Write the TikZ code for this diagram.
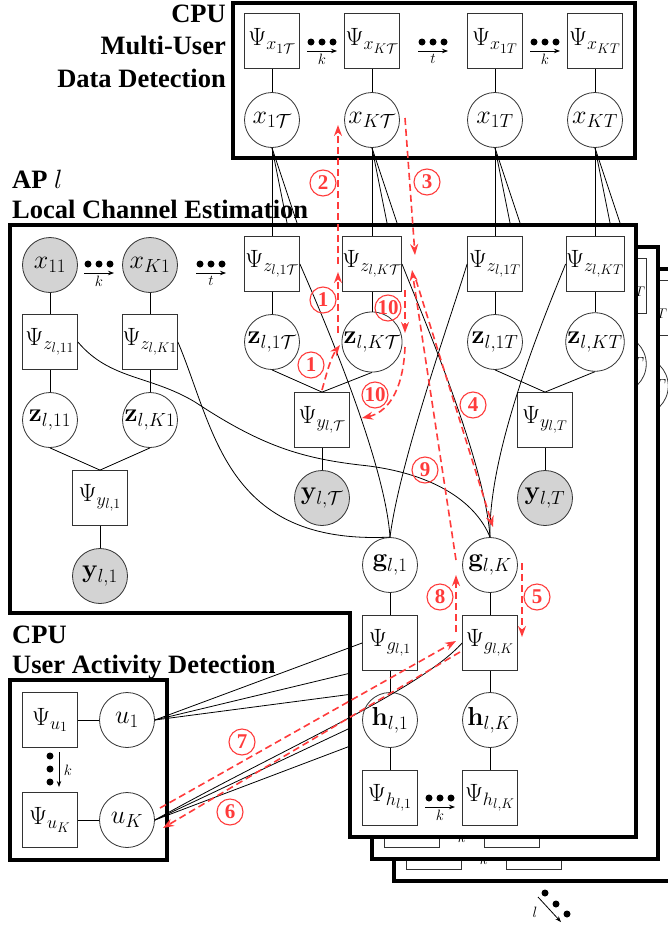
\RequirePackage{fix-cm}
\documentclass[tikz,border=0pt]{standalone}
\usepackage[no-math]{fontspec}
\setmainfont{Liberation Serif}
\usetikzlibrary{arrows.meta}
\DeclareMathSizes{25}{25}{18}{14}
\DeclareMathSizes{26}{26}{19}{14}
\definecolor{arrred}{HTML}{FF3B3B}
\definecolor{nodeline}{HTML}{333333}
\definecolor{obsgray}{HTML}{D3D3D3}
\newcommand{\hdotsarrow}[4]{%
  \fill (#1-11,#2) circle (3.5pt) (#1,#2) circle (3.5pt) (#1+11,#2) circle (3.5pt);
  \draw[smallarr] (#1-15,#2+9) -- (#1+15,#2+9);
  \node[dotlab] (#4) at (#1,#2+17) {$#3$};}
\begin{document}
\begin{tikzpicture}[x=1pt,y=-1pt,
  conn/.style={line width=0.8pt, draw=black},
  fbox/.style={draw=nodeline, line width=0.8pt, fill=white, rectangle, minimum size=55pt, inner sep=0pt, font=\fontsize{25}{28}\selectfont},
  var/.style={draw=nodeline, line width=0.8pt, fill=white, circle, minimum size=55pt, inner sep=0pt, font=\fontsize{26}{30}\selectfont},
  obs/.style={var, fill=obsgray},
  frame/.style={line width=3.5pt, draw=black, fill=white},
  openframe/.style={line width=3.5pt, draw=black},
  title/.style={font=\fontsize{26.5}{31}\bfseries\selectfont, inner sep=0pt},
  rarr/.style={draw=arrred, line width=1.6pt, dash pattern=on 7pt off 4pt, -{Stealth[length=11pt,width=8pt]}},
  cnum/.style={circle, draw=arrred, text=arrred, line width=1.1pt, minimum size=26pt, inner sep=0pt, font=\fontsize{21}{21}\bfseries\selectfont},
  smallarr/.style={line width=0.8pt, -{Stealth[length=6pt,width=4.5pt]}},
  dotlab/.style={inner sep=0pt, font=\fontsize{15}{15}\selectfont},
]
\useasboundingbox (0,0) rectangle (668,929);

% ---------- top CPU nodes ----------
\node[fbox] (PxA) at (272,41) {$\Psi_{x_{1\mathcal{T}}}$};
\node[fbox] (PxB) at (372,41) {$\Psi_{x_{K\mathcal{T}}}$};
\node[fbox] (PxC) at (495,41) {$\Psi_{x_{1T}}$};
\node[fbox] (PxD) at (595,41) {$\Psi_{x_{KT}}$};
\node[var] (xA) at (272,120) {$x_{1\mathcal{T}}$};
\node[var] (xB) at (372,120) {$x_{K\mathcal{T}}$};
\node[var] (xC) at (495,120) {$x_{1T}$};
\node[var] (xD) at (595,120) {$x_{KT}$};
\draw[conn] (PxA.south) -- (xA.north);
\draw[conn] (PxB.south) -- (xB.north);
\draw[conn] (PxC.south) -- (xC.north);
\draw[conn] (PxD.south) -- (xD.north);
\hdotsarrow{322}{42}{k}{kt1}
\hdotsarrow{433}{42}{t}{tt}
\hdotsarrow{545}{42}{k}{kt2}

% ---------- UAD nodes ----------
\node[fbox] (Pu1) at (50,720) {$\Psi_{u_1}$};
\node[var] (u1) at (127,720) {$u_1$};
\node[fbox] (PuK) at (50,820) {$\Psi_{u_K}$};
\node[var] (uK) at (127,820) {$u_K$};
\draw[conn] (Pu1) -- (u1);
\draw[conn] (PuK) -- (uK);
\fill (50,756) circle (3.5pt) (50,769) circle (3.5pt) (50,782) circle (3.5pt);
\draw[smallarr] (59,752) -- (59,787);
\node[dotlab] (kU) at (68,770) {$k$};

% ---------- hidden ends of connectors to AP l+1, l+2 ----------
\coordinate (c2zA) at (294,258); \coordinate (c3zA) at (316,280);
\coordinate (c2zB) at (394,258); \coordinate (c3zB) at (416,280);
\coordinate (c2zC) at (517,258); \coordinate (c3zC) at (539,280);
\coordinate (c2zD) at (617,258); \coordinate (c3zD) at (639,280);
\coordinate (c2g1) at (384,665); \coordinate (c3g1) at (406,687);
\coordinate (c2gK) at (484,665); \coordinate (c3gK) at (506,687);
\foreach \n in {A,B,C,D}{
  \draw[conn] (x\n.south) -- (c2z\n);
  \draw[conn] (x\n.south) -- (c3z\n);}
\draw[conn] (u1.east) -- (c2g1);
\draw[conn] (u1.east) -- (c3g1);
\draw[conn] (uK.east) -- (c2gK);
\draw[conn] (uK.east) -- (c3gK);

% ---------- AP l+2 ----------
\draw[frame] (394,269) rectangle (680,881);
\node[fbox] (c3PzD) at (639,308) {$\Psi_{z_{l,KT}}$};
\node[var] (c3zD) at (639,386) {$\mathbf{z}_{l,KT}$};
\node[fbox] (c3Ph1) at (434,842) {};
\node[fbox] (c3PhK) at (534,842) {};
\hdotsarrow{484}{842}{k}{c3kh}
% ---------- AP l+1 ----------
\draw[frame] (372,247) rectangle (658,859);
\node[fbox] (c2PzD) at (617,286) {$\Psi_{z_{l,KT}}$};
\node[var] (c2zD) at (617,364) {$\mathbf{z}_{l,KT}$};
\node[fbox] (c2Ph1) at (412,820) {};
\node[fbox] (c2PhK) at (512,820) {};
\hdotsarrow{462}{820}{k}{c2kh}

% ---------- AP l ----------
\draw[frame] (10,225) -- (636,225) -- (636,837) -- (350,837) -- (350,613) -- (10,613) -- cycle;

\node[obs] (x11) at (50,265) {$x_{11}$};
\node[obs] (xK1) at (150,265) {$x_{K1}$};
\hdotsarrow{99}{264}{k}{ka}
\hdotsarrow{211}{264}{t}{ta}
\node[fbox] (Pz11) at (50,342) {$\Psi_{z_{l,11}}$};
\node[fbox] (PzK1) at (150,342) {$\Psi_{z_{l,K1}}$};
\node[var] (z11) at (50,420) {$\mathbf{z}_{l,11}$};
\node[var] (zK1) at (150,420) {$\mathbf{z}_{l,K1}$};
\node[fbox] (Py1) at (100,498) {$\Psi_{y_{l,1}}$};
\node[obs] (y1) at (100,576) {$\mathbf{y}_{l,1}$};

\node[fbox] (PzA) at (272,264) {$\Psi_{z_{l,1\mathcal{T}}}$};
\node[fbox] (PzB) at (372,264) {$\Psi_{z_{l,K\mathcal{T}}}$};
\node[fbox] (PzC) at (495,264) {$\Psi_{z_{l,1T}}$};
\node[fbox] (PzD) at (595,264) {$\Psi_{z_{l,KT}}$};
\node[var] (zA) at (272,342) {$\mathbf{z}_{l,1\mathcal{T}}$};
\node[var] (zB) at (372,342) {$\mathbf{z}_{l,K\mathcal{T}}$};
\node[var] (zC) at (495,342) {$\mathbf{z}_{l,1T}$};
\node[var] (zD) at (595,342) {$\mathbf{z}_{l,KT}$};
\node[fbox] (PyA) at (322,420) {$\Psi_{y_{l,\mathcal{T}}}$};
\node[obs] (yA) at (322,498) {$\mathbf{y}_{l,\mathcal{T}}$};
\node[fbox] (PyC) at (545,420) {$\Psi_{y_{l,T}}$};
\node[obs] (yC) at (545,498) {$\mathbf{y}_{l,T}$};

\node[var] (g1) at (390,565) {$\mathbf{g}_{l,1}$};
\node[var] (gK) at (490,565) {$\mathbf{g}_{l,K}$};
\node[fbox] (Pg1) at (390,643) {$\Psi_{g_{l,1}}$};
\node[fbox] (PgK) at (490,643) {$\Psi_{g_{l,K}}$};
\node[var] (h1) at (390,720) {$\mathbf{h}_{l,1}$};
\node[var] (hK) at (490,720) {$\mathbf{h}_{l,K}$};
\node[fbox] (Ph1) at (390,798) {$\Psi_{h_{l,1}}$};
\node[fbox] (PhK) at (490,798) {$\Psi_{h_{l,K}}$};
\hdotsarrow{440}{798}{k}{kh}

% connectors inside AP l
\draw[conn] (x11.south) -- (Pz11.north);
\draw[conn] (xK1.south) -- (PzK1.north);
\draw[conn] (Pz11.south) -- (z11.north);
\draw[conn] (PzK1.south) -- (zK1.north);
\draw[conn] (z11.south) -- (Py1.north);
\draw[conn] (zK1.south) -- (Py1.north);
\draw[conn] (Py1.south) -- (y1.north);
\draw[conn] (PzA.south) -- (zA.north);
\draw[conn] (PzB.south) -- (zB.north);
\draw[conn] (PzC.south) -- (zC.north);
\draw[conn] (PzD.south) -- (zD.north);
\draw[conn] (zA.south) -- (PyA.north);
\draw[conn] (zB.south) -- (PyA.north);
\draw[conn] (PyA.south) -- (yA.north);
\draw[conn] (zC.south) -- (PyC.north);
\draw[conn] (zD.south) -- (PyC.north);
\draw[conn] (PyC.south) -- (yC.north);
\draw[conn] (g1.south) -- (Pg1.north);
\draw[conn] (Pg1.south) -- (h1.north);
\draw[conn] (h1.south) -- (Ph1.north);
\draw[conn] (gK.south) -- (PgK.north);
\draw[conn] (PgK.south) -- (hK.north);
\draw[conn] (hK.south) -- (PhK.north);
% long curves to g
\draw[conn] (PzK1.east) .. controls (215,430) and (225,545) .. (g1.north);
\draw[conn] (Pz11.east) .. controls (110,380) and (150,375) .. (195,402)
                        .. controls (260,445) and (300,458) .. (360,465)
                        .. controls (430,472) and (475,500) .. (gK.north);
\draw[conn] (PzA.east) .. controls (320,310) and (385,460) .. (g1.north);
\draw[conn] (PzB.east) .. controls (420,310) and (485,460) .. (gK.north);
\draw[conn] (PzC.west) .. controls (450,320) and (400,460) .. (g1.north);
\draw[conn] (PzD.west) .. controls (545,315) and (488,450) .. (gK.north);
% from CPU
\foreach \n in {A,B,C,D}{\draw[conn] (x\n.south) -- (Pz\n.north);}
\draw[conn] (u1.east) -- (Pg1.west);
\draw[conn] (uK.east) .. controls (280,750) and (420,690) .. (PgK.west);

% ---------- frames ----------
\draw[openframe] (233,3) rectangle (635,158);
\draw[openframe] (10,680) rectangle (167,860);

% diagonal dots
\fill (545,893) circle (3.5pt) (556,904) circle (3.5pt) (567,914) circle (3.5pt);
\draw[smallarr] (538,897) -- (561,922);
\node[dotlab] (lL) at (535,912) {$l$};

% ---------- titles ----------
\node[title, anchor=base east] (t1) at (226,22) {CPU};
\node[title, anchor=base east] (t2) at (226,54) {Multi-User};
\node[title, anchor=base east] (t3) at (226,87) {Data Detection};
\node[title, anchor=base west] (t4) at (12,188) {AP $l$};
\node[title, anchor=base west] (t5) at (12,218) {Local Channel Estimation};
\node[title, anchor=base west] (t6) at (12,643) {CPU};
\node[title, anchor=base west] (t7) at (12,673) {User Activity Detection};

% ---------- message passing arrows ----------
\coordinate (r1s) at (322,390); \coordinate (r1e) at (340,345);
\coordinate (r1bs) at (338,333); \coordinate (r1be) at (338,272);
\coordinate (r2s) at (338,264); \coordinate (r2e) at (338,125);
\coordinate (r3s) at (405,118); \coordinate (r3e) at (415,255);
\coordinate (r4s) at (416,280); \coordinate (r4e) at (493,527);
\coordinate (r5s) at (522,563); \coordinate (r5e) at (522,637);
\coordinate (r6s) at (460,652); \coordinate (r6e) at (163,828);
\coordinate (r7s) at (160,808); \coordinate (r7e) at (456,641);
\coordinate (r8s) at (456,632); \coordinate (r8e) at (456,575);
\coordinate (r9s) at (456,560); \coordinate (r9e) at (412,270);
\coordinate (r10s) at (405,290); \coordinate (r10e) at (405,333);
\coordinate (r10bs) at (405,347); \coordinate (r10be) at (362,418);
\draw[rarr] (r1s) .. controls (327,372) and (331,357) .. (r1e);
\draw[rarr] (r1bs) -- (r1be);
\draw[rarr] (r2s) -- (r2e);
\draw[rarr] (r3s) -- (r3e);
\draw[rarr] (r4s) -- (r4e);
\draw[rarr] (r5s) -- (r5e);
\draw[rarr] (r6s) -- (r6e);
\draw[rarr] (r7s) -- (r7e);
\draw[rarr] (r8s) -- (r8e);
\draw[rarr] (r9s) -- (r9e);
\draw[rarr] (r10s) -- (r10e);
\draw[rarr] (r10bs) .. controls (403,395) and (385,413) .. (r10be);

\node[cnum] (n1a) at (311,365) {1};
\node[cnum] (n1b) at (323,300) {1};
\node[cnum] (n2) at (323,183) {2};
\node[cnum] (n3) at (427,182) {3};
\node[cnum] (n4) at (473,405) {4};
\node[cnum] (n5) at (537,597) {5};
\node[cnum] (n6) at (230,812) {6};
\node[cnum] (n7) at (242,742) {7};
\node[cnum] (n8) at (440,597) {8};
\node[cnum] (n9) at (425,470) {9};
\node[cnum] (n10a) at (388,308) {10};
\node[cnum] (n10b) at (375,395) {10};
\end{tikzpicture}
\end{document}
